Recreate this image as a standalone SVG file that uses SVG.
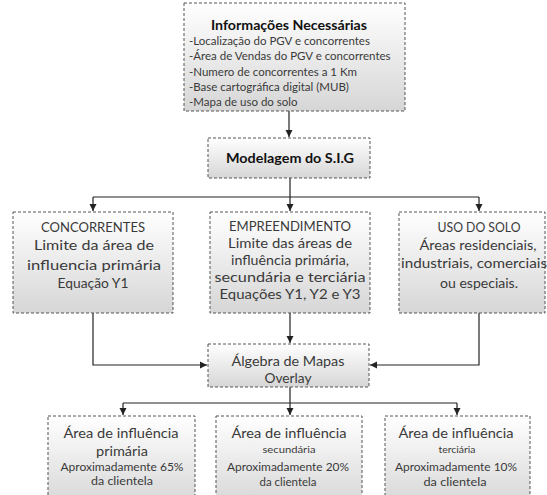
<svg xmlns="http://www.w3.org/2000/svg" width="547" height="495" viewBox="0 0 547 495">
<defs>
<linearGradient id="g" x1="0" y1="0" x2="0" y2="1">
<stop offset="0" stop-color="#ffffff"/>
<stop offset="1" stop-color="#d6d6d6"/>
</linearGradient>
<marker id="ah" markerWidth="8" markerHeight="8" refX="7" refY="4" orient="auto" markerUnits="userSpaceOnUse">
<path d="M0,0.5 L7,4 L0,7.5 Z" fill="#222"/>
</marker>
<style>
.box{fill:url(#g);stroke:#555;stroke-width:1;stroke-dasharray:3 2}
.t{font-family:Lato,"Liberation Sans",sans-serif;fill:#3a3a3a;text-anchor:middle}
.s14{font-size:14px}
.s13{font-size:13px}
.s12{font-size:12px}
.s11{font-size:11px}
.s10{font-size:10px}
.b{font-weight:bold;fill:#111}
.l{font-family:Lato,"Liberation Sans",sans-serif;fill:#3a3a3a;font-size:11.5px}
.c{fill:none;stroke:#222;stroke-width:1.2}
</style>
</defs>
<rect width="547" height="495" fill="#ffffff"/>
<g id="connectors">
<path class="c" d="M289,111 V137" marker-end="url(#ah)"/>
<path class="c" d="M290,178 V197 M93,197 H479"/>
<path class="c" d="M93,197 V211" marker-end="url(#ah)"/>
<path class="c" d="M290,197 V211" marker-end="url(#ah)"/>
<path class="c" d="M479,197 V211" marker-end="url(#ah)"/>
<path class="c" d="M93,313 V365 H207" marker-end="url(#ah)"/>
<path class="c" d="M479,313 V365 H370" marker-end="url(#ah)"/>
<path class="c" d="M290,313 V343" marker-end="url(#ah)"/>
<path class="c" d="M290,387 V415" marker-end="url(#ah)"/>
<path class="c" d="M123,403 H457"/>
<path class="c" d="M123,403 V415" marker-end="url(#ah)"/>
<path class="c" d="M457,403 V415" marker-end="url(#ah)"/>
</g>
<g id="info">
<rect class="box" x="184" y="3" width="221" height="108"/>
<text class="t s14 b" x="289" y="30" textLength="156" lengthAdjust="spacingAndGlyphs">Informações Necessárias</text>
<text class="l" x="189" y="45">-Localização do PGV e concorrentes</text>
<text class="l" x="189" y="60">-Área de Vendas do PGV e concorrentes</text>
<text class="l" x="189" y="76">-Numero de concorrentes a 1 Km</text>
<text class="l" x="189" y="91">-Base cartográfica digital (MUB)</text>
<text class="l" x="189" y="106">-Mapa de uso do solo</text>
</g>
<g id="modelagem">
<rect class="box" x="208" y="138" width="162" height="40"/>
<text class="t s14 b" x="290" y="163" textLength="128" lengthAdjust="spacingAndGlyphs">Modelagem do S.I.G</text>
</g>
<g id="concorrentes">
<rect class="box" x="13" y="212" width="160" height="101"/>
<text class="t s14" x="93" y="232" textLength="104" lengthAdjust="spacingAndGlyphs">CONCORRENTES</text>
<text class="t s14" x="94" y="250" textLength="120" lengthAdjust="spacingAndGlyphs">Limite da área de</text>
<text class="t s14" x="94" y="270" textLength="134" lengthAdjust="spacingAndGlyphs">influencia primária</text>
<text class="t s14" x="93" y="288" textLength="71" lengthAdjust="spacingAndGlyphs">Equação Y1</text>
</g>
<g id="empreendimento">
<rect class="box" x="210" y="212" width="160" height="101"/>
<text class="t s14" x="290" y="231" textLength="122" lengthAdjust="spacingAndGlyphs">EMPREENDIMENTO</text>
<text class="t s14" x="290" y="248" textLength="124" lengthAdjust="spacingAndGlyphs">Limite das áreas de</text>
<text class="t s14" x="290" y="265" textLength="118" lengthAdjust="spacingAndGlyphs">influência primária,</text>
<text class="t s14" x="290" y="282" textLength="151" lengthAdjust="spacingAndGlyphs">secundária e terciária</text>
<text class="t s14" x="290" y="299" textLength="141" lengthAdjust="spacingAndGlyphs">Equações Y1, Y2 e Y3</text>
</g>
<g id="uso">
<rect class="box" x="399" y="212" width="146" height="101"/>
<text class="t s14" x="479" y="232" textLength="83" lengthAdjust="spacingAndGlyphs">USO DO SOLO</text>
<text class="t s14" x="478" y="250" textLength="117" lengthAdjust="spacingAndGlyphs">Áreas residenciais,</text>
<text class="t s14" x="474" y="268" textLength="146" lengthAdjust="spacingAndGlyphs">industriais, comerciais</text>
<text class="t s14" x="479" y="288" textLength="78" lengthAdjust="spacingAndGlyphs">ou especiais.</text>
</g>
<g id="algebra">
<rect class="box" x="208" y="344" width="161" height="43"/>
<text class="t s14" x="288" y="366" textLength="113" lengthAdjust="spacingAndGlyphs">Álgebra de Mapas</text>
<text class="t s14" x="288" y="383" textLength="47" lengthAdjust="spacingAndGlyphs">Overlay</text>
</g>
<g id="primaria">
<rect class="box" x="48" y="416" width="147" height="90"/>
<text class="t s14" x="121" y="438" textLength="115" lengthAdjust="spacingAndGlyphs">Área de influência</text>
<text class="t s13" x="122" y="456" textLength="52" lengthAdjust="spacingAndGlyphs">primária</text>
<text class="t s11" x="122" y="471" textLength="123" lengthAdjust="spacingAndGlyphs">Aproximadamente 65%</text>
<text class="t s12" x="122" y="485" textLength="62" lengthAdjust="spacingAndGlyphs">da clientela</text>
</g>
<g id="secundaria">
<rect class="box" x="216" y="416" width="146" height="90"/>
<text class="t s14" x="289" y="438" textLength="115" lengthAdjust="spacingAndGlyphs">Área de influência</text>
<text class="t s10" x="289" y="453" textLength="53" lengthAdjust="spacingAndGlyphs">secundária</text>
<text class="t s11" x="288" y="471" textLength="122" lengthAdjust="spacingAndGlyphs">Aproximadamente 20%</text>
<text class="t s12" x="288" y="486" textLength="57" lengthAdjust="spacingAndGlyphs">da clientela</text>
</g>
<g id="terciaria">
<rect class="box" x="385" y="416" width="145" height="90"/>
<text class="t s14" x="456" y="438" textLength="115" lengthAdjust="spacingAndGlyphs">Área de influência</text>
<text class="t s10" x="457" y="453" textLength="37" lengthAdjust="spacingAndGlyphs">terciária</text>
<text class="t s11" x="456" y="471" textLength="122" lengthAdjust="spacingAndGlyphs">Aproximadamente 10%</text>
<text class="t s12" x="455" y="486" textLength="63" lengthAdjust="spacingAndGlyphs">da clientela</text>
</g>
</svg>
